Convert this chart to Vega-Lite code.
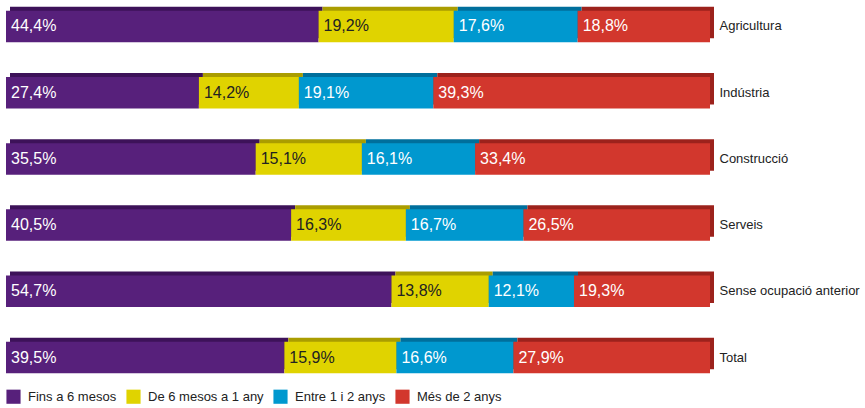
{
  "$schema": "https://vega.github.io/schema/vega-lite/v6.json",
  "width": 704,
  "height": 384,
  "autosize": {"type": "none"},
  "padding": {"left": 6, "top": 0, "right": 155, "bottom": 24},
  "background": "white",
  "config": {
    "view": {"stroke": null},
    "font": "Liberation Sans, Arial, sans-serif"
  },
  "data": {
    "values": [
      {"cat": "Agricultura", "serie": "Fins a 6 mesos", "k": 1, "pct": 44.4},
      {"cat": "Agricultura", "serie": "De 6 mesos a 1 any", "k": 2, "pct": 19.2},
      {"cat": "Agricultura", "serie": "Entre 1 i 2 anys", "k": 3, "pct": 17.6},
      {"cat": "Agricultura", "serie": "Més de 2 anys", "k": 4, "pct": 18.8},
      {"cat": "Indústria", "serie": "Fins a 6 mesos", "k": 1, "pct": 27.4},
      {"cat": "Indústria", "serie": "De 6 mesos a 1 any", "k": 2, "pct": 14.2},
      {"cat": "Indústria", "serie": "Entre 1 i 2 anys", "k": 3, "pct": 19.1},
      {"cat": "Indústria", "serie": "Més de 2 anys", "k": 4, "pct": 39.3},
      {"cat": "Construcció", "serie": "Fins a 6 mesos", "k": 1, "pct": 35.5},
      {"cat": "Construcció", "serie": "De 6 mesos a 1 any", "k": 2, "pct": 15.1},
      {"cat": "Construcció", "serie": "Entre 1 i 2 anys", "k": 3, "pct": 16.1},
      {"cat": "Construcció", "serie": "Més de 2 anys", "k": 4, "pct": 33.4},
      {"cat": "Serveis", "serie": "Fins a 6 mesos", "k": 1, "pct": 40.5},
      {"cat": "Serveis", "serie": "De 6 mesos a 1 any", "k": 2, "pct": 16.3},
      {"cat": "Serveis", "serie": "Entre 1 i 2 anys", "k": 3, "pct": 16.7},
      {"cat": "Serveis", "serie": "Més de 2 anys", "k": 4, "pct": 26.5},
      {"cat": "Sense ocupació anterior", "serie": "Fins a 6 mesos", "k": 1, "pct": 54.7},
      {"cat": "Sense ocupació anterior", "serie": "De 6 mesos a 1 any", "k": 2, "pct": 13.8},
      {"cat": "Sense ocupació anterior", "serie": "Entre 1 i 2 anys", "k": 3, "pct": 12.1},
      {"cat": "Sense ocupació anterior", "serie": "Més de 2 anys", "k": 4, "pct": 19.3},
      {"cat": "Total", "serie": "Fins a 6 mesos", "k": 1, "pct": 39.5},
      {"cat": "Total", "serie": "De 6 mesos a 1 any", "k": 2, "pct": 15.9},
      {"cat": "Total", "serie": "Entre 1 i 2 anys", "k": 3, "pct": 16.6},
      {"cat": "Total", "serie": "Més de 2 anys", "k": 4, "pct": 27.9}
    ]
  },
  "transform": [
    {"stack": "pct", "groupby": ["cat"], "sort": [{"field": "k", "order": "ascending"}], "offset": "normalize", "as": ["x0", "x1"]},
    {"calculate": "replace(format(datum.pct, '.1f'), '.', ',') + '%'", "as": "label"}
  ],
  "encoding": {
    "y": {
      "field": "cat",
      "type": "nominal",
      "sort": ["Agricultura", "Indústria", "Construcció", "Serveis", "Sense ocupació anterior", "Total"],
      "scale": {"paddingInner": 0.524, "paddingOuter": 0.162},
      "axis": {
        "orient": "right",
        "title": null,
        "domain": false,
        "ticks": false,
        "labelPadding": 9,
        "labelFontSize": 13,
        "labelLimit": 200,
        "labelColor": "#222222"
      }
    }
  },
  "layer": [
    {
      "mark": {"type": "bar", "xOffset": 4, "x2Offset": 4, "yOffset": -4, "y2Offset": -4},
      "encoding": {
        "x": {"field": "x0", "type": "quantitative", "scale": {"domain": [0, 1], "nice": false}, "axis": null},
        "x2": {"field": "x1"},
        "fill": {
          "condition": [
            {"test": "datum.k == 1", "value": "#3d1259"},
            {"test": "datum.k == 2", "value": "#aa9d00"},
            {"test": "datum.k == 3", "value": "#006f9c"}
          ],
          "value": "#9c221c"
        }
      }
    },
    {
      "mark": {"type": "bar"},
      "encoding": {
        "x": {"field": "x0", "type": "quantitative"},
        "x2": {"field": "x1"},
        "color": {
          "field": "serie",
          "type": "nominal",
          "scale": {
            "domain": ["Fins a 6 mesos", "De 6 mesos a 1 any", "Entre 1 i 2 anys", "Més de 2 anys"],
            "range": ["#57207b", "#e0d300", "#0098cf", "#d2372d"]
          },
          "legend": {
            "orient": "bottom",
            "direction": "horizontal",
            "title": null,
            "symbolType": "square",
            "symbolSize": 200,
            "symbolStrokeWidth": 0,
            "labelFontSize": 13,
            "labelColor": "#222222",
            "labelOffset": 7,
            "columnPadding": 9,
            "offset": 5,
            "padding": 0
          }
        }
      }
    },
    {
      "mark": {"type": "text", "align": "left", "baseline": "middle", "dx": 5, "fontSize": 16},
      "encoding": {
        "x": {"field": "x0", "type": "quantitative"},
        "text": {"field": "label"},
        "color": {"condition": {"test": "datum.k == 2", "value": "#222222"}, "value": "white"}
      }
    }
  ]
}
